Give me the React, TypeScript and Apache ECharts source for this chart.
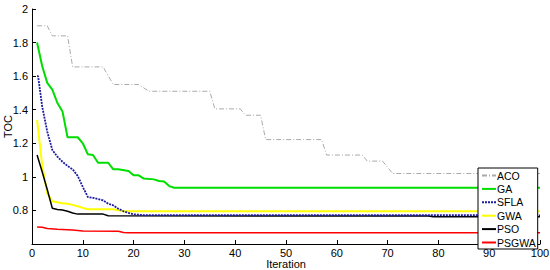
import React, { useEffect, useRef } from "react";
import * as echarts from "echarts";

const seriesNames = ["ACO", "GA", "SFLA", "GWA", "PSO", "PSGWA"];

const acoIter = [1, 3, 4, 7, 8, 14, 16, 21, 23, 35, 36, 41, 42, 45, 46, 57, 58, 65, 66, 69, 71, 100];
const acoVal = [1.9, 1.9, 1.84, 1.84, 1.655, 1.655, 1.55, 1.55, 1.51, 1.51, 1.405, 1.405, 1.367, 1.367, 1.222, 1.222, 1.13, 1.13, 1.094, 1.094, 1.02, 1.02];

const gaIter = [1, 2, 3, 4, 5, 6, 7, 9, 10, 11, 12, 13, 15, 16, 17, 19, 20, 21, 22, 24, 25, 26, 27, 28, 100];
const gaVal = [1.8, 1.66, 1.56, 1.52, 1.44, 1.39, 1.236, 1.236, 1.2, 1.134, 1.13, 1.084, 1.084, 1.045, 1.045, 1.035, 1.009, 1.009, 0.99, 0.985, 0.975, 0.972, 0.945, 0.935, 0.935];

const sflaIter = [1, 1.2, 2, 3, 4, 5, 6, 7, 8, 9, 10, 11, 12, 14, 15, 16, 17, 18, 19, 20, 22, 100];
const sflaVal = [1.6, 1.6, 1.42, 1.27, 1.16, 1.12, 1.09, 1.065, 1.045, 1.005, 0.94, 0.88, 0.875, 0.86, 0.84, 0.83, 0.81, 0.795, 0.785, 0.777, 0.772, 0.771];

const gwaIter = [1, 2, 3, 4, 6, 7, 8, 9, 10, 11, 16, 18, 100];
const gwaVal = [1.34, 1.07, 0.9, 0.855, 0.843, 0.84, 0.833, 0.825, 0.815, 0.807, 0.807, 0.795, 0.795];

const psoIter = [1, 2, 3, 4, 5, 6, 7, 8, 9, 14, 15, 78, 79, 100];
const psoVal = [1.13, 1.03, 0.925, 0.813, 0.805, 0.803, 0.795, 0.785, 0.778, 0.778, 0.768, 0.767, 0.763, 0.763];

const psgwaIter = [1, 2, 3, 5, 8, 10, 17, 18, 19, 100];
const psgwaVal = [0.702, 0.7, 0.692, 0.688, 0.684, 0.678, 0.676, 0.668, 0.667, 0.667];

const xTicks = [0, 10, 20, 30, 40, 50, 60, 70, 80, 90, 100];
const yTicks = [0.6, 0.8, 1, 1.2, 1.4, 1.6, 1.8, 2];

const zip = (a: number[], b: number[]) => a.map((x, i) => [x, b[i]]);

export default function App() {
  const ref = useRef<HTMLDivElement>(null);
  useEffect(() => {
    if (!ref.current) return;
    const chart = echarts.init(ref.current, undefined, { renderer: "svg" });
    const font = "Liberation Sans, Arial, sans-serif";
    const mk = (name: string, data: number[][], color: string, width: number, type: any, z = 2) => ({
      name,
      type: "line",
      data,
      symbol: "none",
      showSymbol: false,
      z,
      lineStyle: { color, width, type },
      itemStyle: { color },
    });
    chart.setOption({
      animation: false,
      backgroundColor: "#ffffff",
      grid: { left: 32, right: 10, top: 9, bottom: 26, containLabel: false, outerBoundsMode: "none" },
      xAxis: {
        type: "value",
        min: xTicks[0],
        max: xTicks[xTicks.length - 1],
        interval: 10,
        name: "Iteration",
        nameLocation: "middle",
        nameGap: 14,
        nameMoveOverlap: false,
        nameTextStyle: { color: "#000", fontSize: 11, lineHeight: 11, fontFamily: font },
        axisLine: { show: true, lineStyle: { color: "#000", width: 1 } },
        axisTick: { show: true, inside: true, length: 4, lineStyle: { color: "#000" } },
        axisLabel: { color: "#000", fontSize: 11, lineHeight: 11, fontFamily: font, margin: 3, hideOverlap: false },
        splitLine: { show: false },
      },
      yAxis: {
        type: "value",
        min: yTicks[0],
        max: yTicks[yTicks.length - 1],
        interval: 0.2,
        name: "TOC",
        nameLocation: "middle",
        nameGap: 19,
        nameMoveOverlap: false,
        nameRotate: 90,
        nameTextStyle: { color: "#000", fontSize: 11, fontFamily: font },
        axisLine: { show: true, lineStyle: { color: "#000", width: 1 } },
        axisTick: { show: true, inside: true, length: 4, lineStyle: { color: "#000" } },
        axisLabel: {
          color: "#000",
          fontSize: 11,
          fontFamily: font,
          margin: 4,
          formatter: (v: number) => (Math.abs(v - 0.6) < 1e-6 ? "" : String(Math.round(v * 10) / 10)),
        },
        splitLine: { show: false },
      },
      legend: {
        data: seriesNames,
        orient: "vertical",
        left: 478,
        top: 168,
        z: 10,
        backgroundColor: "#ffffff",
        borderColor: "#000",
        borderWidth: 1,
        padding: [2, 2, 1, 3],
        itemWidth: 14,
        itemHeight: 10,
        itemGap: 2.4,
        itemStyle: { opacity: 0 },
        textStyle: { color: "#000", fontSize: 10.5, lineHeight: 10, fontFamily: font, padding: [0, 0, 0, -4] },
      },
      series: [
        mk(seriesNames[0], zip(acoIter, acoVal), "#aaaaaa", 1, [5, 2, 1, 2]),
        mk(seriesNames[1], zip(gaIter, gaVal), "#00dd00", 2, "solid"),
        mk(seriesNames[2], zip(sflaIter, sflaVal), "#1c1ca0", 1.8, [2, 1], 4),
        mk(seriesNames[3], zip(gwaIter, gwaVal), "#ffff00", 2, "solid"),
        mk(seriesNames[4], zip(psoIter, psoVal), "#000000", 1.5, "solid", 3),
        mk(seriesNames[5], zip(psgwaIter, psgwaVal), "#ff0000", 1.5, "solid"),
      ],
    });
    return () => chart.dispose();
  }, []);
  return <div ref={ref} style={{ position: "fixed", left: 0, top: 0, width: 550, height: 270 }} />;
}
